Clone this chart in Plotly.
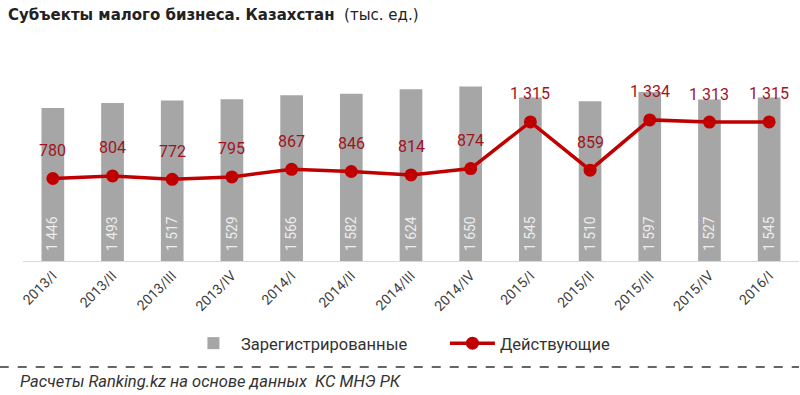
import plotly.graph_objects as go

categories = ["2013/I", "2013/II", "2013/III", "2013/IV", "2014/I", "2014/II", "2014/III",
              "2014/IV", "2015/I", "2015/II", "2015/III", "2015/IV", "2016/I"]
registered = [1446, 1493, 1517, 1529, 1566, 1582, 1624, 1650, 1545, 1510, 1597, 1527, 1545]
active = [780, 804, 772, 795, 867, 846, 814, 874, 1315, 859, 1334, 1313, 1315]

def fmt(v):
    return f"{v:,}".replace(",", " ")

FONT = "Liberation Sans Narrow, Roboto, Arial, sans-serif"

fig = go.Figure()
fig.add_trace(go.Bar(
    x=categories, y=registered, name="Зарегистрированные" + "\u00a0" * 8,
    marker=dict(color="#a6a6a6", line=dict(width=0)),
    width=0.38,
    text=["\u00a0\u00a0" + fmt(v) for v in registered], textposition="inside", insidetextanchor="start",
    textangle=-90, textfont=dict(color="#ececec", size=15, family=FONT),
    hoverinfo="skip",
))
fig.add_trace(go.Scatter(
    x=categories, y=active, name="Действующие", mode="lines+markers",
    line=dict(color="#c00000", width=3.5),
    marker=dict(color="#c00000", size=13),
    hoverinfo="skip",
))
for c, v in zip(categories, active):
    fig.add_annotation(x=c, y=v, text=fmt(v), showarrow=False, yshift=28,
                       font=dict(color="#a0141e", size=16, family=FONT))

fig.add_shape(type="line", xref="paper", yref="paper", x0=-0.03, x1=1.0, y0=-0.527, y1=-0.527,
              line=dict(color="#333333", width=1.5, dash="dash"))
fig.add_annotation(xref="paper", yref="paper", x=-0.007, y=-0.60, xanchor="left", yanchor="middle",
                   text="<i>Расчеты Ranking.kz на основе данных  КС МНЭ РК</i>", showarrow=False,
                   font=dict(color="#333333", size=16.5, family=FONT))

fig.update_layout(
    width=800, height=395,
    margin=dict(l=23, r=1, t=60, b=134, autoexpand=False),
    paper_bgcolor="white", plot_bgcolor="white",
    title=dict(text="<b>Субъекты малого бизнеса. Казахстан</b>  (тыс. ед.)",
               xref="container", yref="container", x=0.01, xanchor="left", y=0.975, yanchor="top",
               font=dict(color="#222222", size=15, family="DejaVu Sans, Verdana, sans-serif")),
    showlegend=True,
    legend=dict(orientation="h", x=0.487, xanchor="center", y=-0.41, yanchor="middle",
                font=dict(size=16.5, color="#333333", family=FONT), itemwidth=45,
                tracegroupgap=0, traceorder="normal"),
    xaxis=dict(showgrid=False, showline=True, linecolor="#d9d9d9", linewidth=1, automargin=False,
               tickangle=-45, tickfont=dict(size=14, color="#404040", family="Roboto, Arial, sans-serif"),
               ticks="", range=[-0.5, 12.5]),
    yaxis=dict(visible=False, range=[0, 1900], automargin=False),
    bargap=0.62,
)
fig.write_html("out.html", config={"displayModeBar": False},
               post_script="document.body.style.margin='0';")
